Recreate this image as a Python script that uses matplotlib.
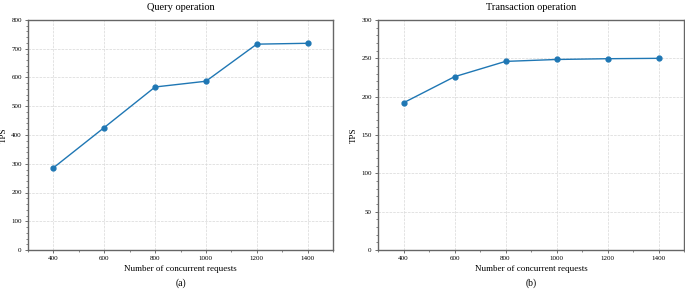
import matplotlib
matplotlib.use("Agg")
from matplotlib import pyplot as plt
from matplotlib.ticker import AutoMinorLocator

requests = [400, 600, 800, 1000, 1200, 1400]
query_tps = [286, 426, 567, 587, 716, 719]
trans_tps = [192, 226, 246, 248.5, 249.5, 250]

plt.rcParams['font.family'] = ['Liberation Serif', 'DejaVu Serif']

fig = plt.figure(figsize=(6.85, 2.93), dpi=100)
ax1 = fig.add_axes([28 / 685, 43 / 293, 305 / 685, 230 / 293])
ax2 = fig.add_axes([378 / 685, 43 / 293, 306 / 685, 230 / 293])

panels = [
    (ax1, query_tps, 'Query operation', (0, 800), 100, '(a)'),
    (ax2, trans_tps, 'Transaction operation', (0, 300), 50, '(b)'),
]

for ax, tps, title, ylim, ystep, tag in panels:
    ax.plot(requests, tps, '-o', color='#1f77b4', lw=1.0, ms=3.5)
    ax.set_xlim(300, 1500)
    ax.set_ylim(*ylim)
    ax.set_xticks(requests)
    ax.set_yticks(range(ylim[0], ylim[1] + 1, ystep))
    ax.xaxis.set_minor_locator(AutoMinorLocator(2))
    ax.yaxis.set_minor_locator(AutoMinorLocator(5))
    ax.tick_params(labelsize=5, length=2.5, width=0.6, color='#555555', pad=2)
    ax.tick_params(which='minor', length=1.5, width=0.5, color='#555555')
    ax.grid(True, ls='--', lw=0.5, color='#d8d8d8')
    for s in ax.spines.values():
        s.set_color('#666666')
        s.set_linewidth(1.0)
    ax.set_title(title, fontsize=7.5, pad=7)
    ax.set_ylabel('TPS', fontsize=6.5)
    ax.yaxis.set_label_coords(-20 / 305, 0.5)
    ax.set_xlabel('Number of concurrent requests', fontsize=6.5, labelpad=3)
    ax.text(0.5, -0.125, tag, transform=ax.transAxes, ha='center', va='top', fontsize=7)

plt.savefig('out.png', dpi=100)
